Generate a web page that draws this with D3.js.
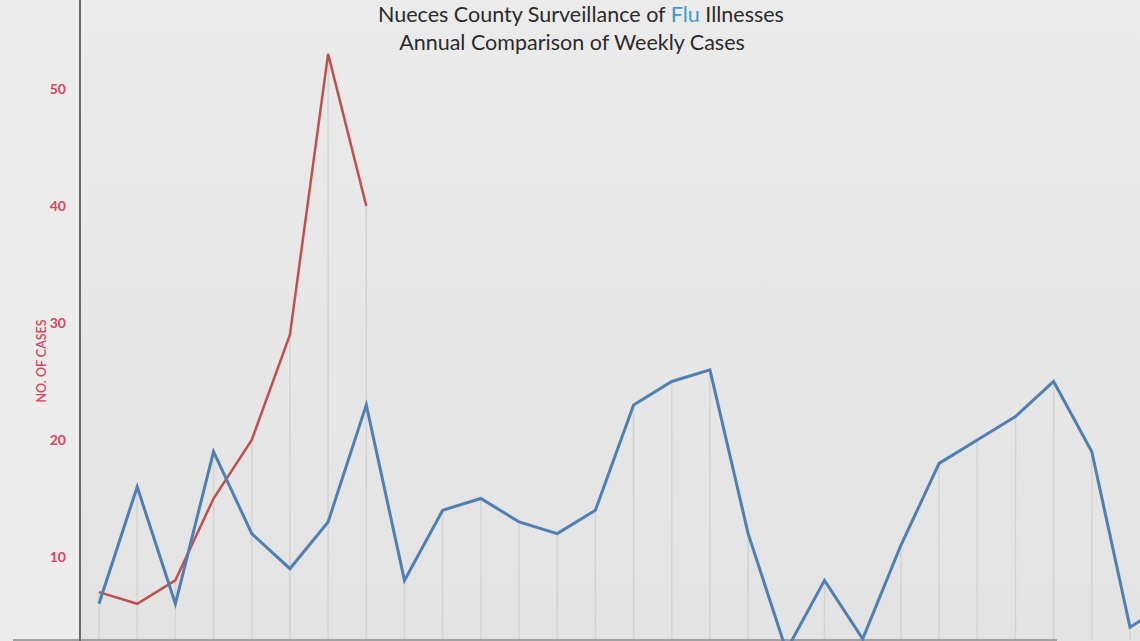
<!DOCTYPE html>
<html>
<head>
<meta charset="utf-8">
<script src="https://cdn.jsdelivr.net/npm/d3@7"></script>
<style>
  html, body { margin: 0; padding: 0; background: #e9e9e9; overflow: hidden; }
  svg { display: block; }
</style>
</head>
<body>
<svg id="chart" width="1140" height="641"></svg>
<script>
// ---- data ----
const weeks = d3.range(1, 30); // week index
const blueValues = [6, 16, 6, 19, 12, 9, 13, 23, 8, 14, 15, 13, 12, 14, 23, 25, 26, 12, 2, 8, 3, 11, 18, 20, 22, 25, 19, 4, 6];
const redValues = [7, 6, 8, 15, 20, 29, 53, 40];
const yTicks = [10, 20, 30, 40, 50];
const titleLine1 = ["Nueces County Surveillance of ", "Flu", " Illnesses"];
const titleLine2 = "Annual Comparison of Weekly Cases";
const yLabel = "NO. OF CASES";

// ---- layout ----
const W = 1140, H = 641;
const svg = d3.select("#chart");
const font = "Lato, 'Open Sans', sans-serif";

const x = d3.scaleLinear().domain([1, 28]).range([99, 1130]);
const y = d3.scaleLinear().domain([0, 50]).range([674, 89]);
const bottomY = 640;

// background
const grad = svg.append("defs").append("linearGradient")
  .attr("id", "bg").attr("x1", 0).attr("y1", 0).attr("x2", 0).attr("y2", 1);
grad.append("stop").attr("offset", "0%").attr("stop-color", "#ebebeb");
grad.append("stop").attr("offset", "100%").attr("stop-color", "#e3e3e3");
svg.append("rect").attr("width", W).attr("height", H).attr("fill", "url(#bg)");
svg.append("rect").attr("width", 80).attr("height", H).attr("fill", "#ececec");

// drop lines
svg.append("g").selectAll("line")
  .data(blueValues.slice(0, 28).map((v, i) => ({ i: i + 1, v: Math.max(v, redValues[i] ?? -Infinity) })))
  .join("line")
  .attr("x1", d => x(d.i)).attr("x2", d => x(d.i))
  .attr("y1", d => y(d.v)).attr("y2", bottomY)
  .attr("stroke", "#d3d3d3").attr("stroke-width", 1.5);

// bottom line
svg.append("line").attr("x1", 13).attr("x2", 1057).attr("y1", bottomY).attr("y2", bottomY)
  .attr("stroke", "#a0a0a0").attr("stroke-width", 2);

// y axis
const yAxis = d3.axisLeft(y).tickValues(yTicks).tickSize(0).tickPadding(14);
const gy = svg.append("g").attr("transform", "translate(80,0)").call(yAxis);
gy.select(".domain").remove();
gy.selectAll("text")
  .attr("fill", "#d6455e").attr("font-family", font).attr("font-size", 14).attr("font-weight", 700);
svg.append("line").attr("x1", 80).attr("x2", 80).attr("y1", 0).attr("y2", H)
  .attr("stroke", "#6a6a6a").attr("stroke-width", 2);

// y label
svg.append("text")
  .attr("transform", "translate(46,361) rotate(-90)")
  .attr("text-anchor", "middle")
  .attr("fill", "#d6455e").attr("font-family", font).attr("font-size", 12.5).attr("font-weight", 600)
  .text(yLabel);

// lines
const line = d3.line().x((d, i) => x(i + 1)).y(d => y(d));
svg.append("path").datum(redValues).attr("d", line)
  .attr("fill", "none").attr("stroke", "#c0504d").attr("stroke-width", 2.5).attr("stroke-linejoin", "miter");
svg.append("path").datum(blueValues).attr("d", line)
  .attr("fill", "none").attr("stroke", "#4f7fb3").attr("stroke-width", 3).attr("stroke-linejoin", "miter");

// title
const t1 = svg.append("text").attr("x", 581).attr("y", 22).attr("text-anchor", "middle")
  .attr("font-family", font).attr("font-size", 21.5).attr("fill", "#2b2b2b");
t1.selectAll("tspan").data(titleLine1).join("tspan")
  .attr("fill", (d, i) => i === 1 ? "#3b9bd3" : "#2b2b2b")
  .text(d => d);
svg.append("text").attr("x", 572).attr("y", 50).attr("text-anchor", "middle")
  .attr("font-family", font).attr("font-size", 21.5).attr("fill", "#2b2b2b")
  .text(titleLine2);
</script>
</body>
</html>
